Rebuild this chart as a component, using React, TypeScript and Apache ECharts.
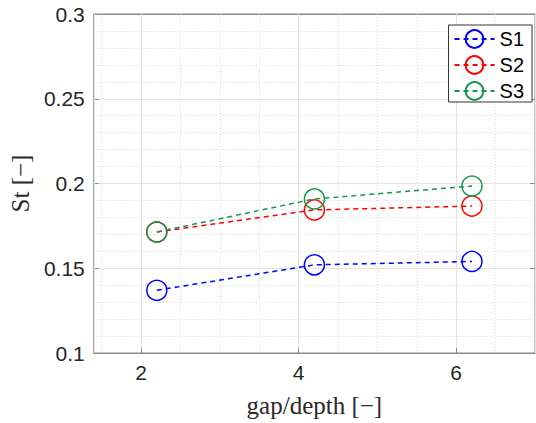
import React, { useEffect, useRef } from "react";
import * as echarts from "echarts";

const xValues = [2.2, 4.2, 6.2];
const s1 = [0.137, 0.152, 0.154];
const s2 = [0.1714, 0.1844, 0.1867];
const s3 = [0.1714, 0.1909, 0.1985];
const seriesNames = ["S1", "S2", "S3"];
const colors = ["#0000ff", "#ff0000", "#17964f"];

export default function App() {
  const ref = useRef<HTMLDivElement>(null);
  useEffect(() => {
    const chart = echarts.init(ref.current!, null, { renderer: "svg" });
    const datasets = [s1, s2, s3];
    const tickFont = { fontFamily: "Liberation Sans", fontSize: 21, color: "#262626" };
    const axisGray = "#8a8a8a";
    chart.setOption({
      animation: false,
      backgroundColor: "#fff",
      grid: { left: 92, top: 14, right: 1, bottom: 70, show: true, borderColor: axisGray, borderWidth: 1 },
      legend: {
        orient: "vertical",
        right: 4,
        top: 25,
        itemWidth: 40,
        itemHeight: 22,
        itemGap: 6,
        padding: [4, 8, 1, 5],
        borderColor: "#333",
        borderWidth: 1,
        backgroundColor: "#fff",
        textStyle: { fontFamily: "Liberation Sans", fontSize: 20, color: "#000" },
        data: seriesNames,
      },
      xAxis: [
        {
          type: "value",
          min: 1.4,
          max: 7,
          minInterval: 2,
          maxInterval: 2,
          axisLine: { show: true, lineStyle: { color: axisGray } },
          axisTick: { show: true, inside: true, length: 5, lineStyle: { color: axisGray } },
          axisLabel: { ...tickFont, margin: 9, showMinLabel: false, showMaxLabel: false },
          splitLine: { show: true, lineStyle: { color: "#e3e3e3", width: 1 } },
          name: "gap/depth [−]",
          nameLocation: "middle",
          nameGap: 40,
          nameTextStyle: { fontFamily: "Liberation Serif", fontSize: 25, color: "#2a2a2a" },
          z: 3,
        },
        {
          type: "value",
          min: 1.4,
          max: 7,
          minInterval: 0.5,
          maxInterval: 0.5,
          position: "bottom",
          axisLine: { show: false },
          axisTick: { show: false },
          axisLabel: { show: false },
          splitLine: { show: true, lineStyle: { color: "#d9d9d9", type: [1, 2], width: 1 } },
          z: 1,
        },
        {
          type: "value",
          min: 1.4,
          max: 7,
          minInterval: 2,
          maxInterval: 2,
          position: "top",
          axisLine: { show: true, lineStyle: { color: axisGray } },
          axisTick: { show: true, inside: true, length: 5, lineStyle: { color: axisGray } },
          axisLabel: { show: false },
          splitLine: { show: false },
        },
      ],
      yAxis: [
        {
          type: "value",
          min: 0.1,
          max: 0.3,
          interval: 0.05,
          axisLine: { show: true, lineStyle: { color: axisGray } },
          axisTick: { show: true, inside: true, length: 5, lineStyle: { color: axisGray } },
          axisLabel: { ...tickFont, margin: 9 },
          splitLine: { show: true, lineStyle: { color: "#e3e3e3", width: 1 } },
          minorTick: { show: false, splitNumber: 5 },
          minorSplitLine: { show: true, lineStyle: { color: "#d9d9d9", type: [1, 2], width: 1 } },
          name: "St [−]",
          nameLocation: "middle",
          nameGap: 58,
          nameRotate: 90,
          nameTextStyle: { fontFamily: "Liberation Serif", fontSize: 25, color: "#2a2a2a" },
        },
        {
          type: "value",
          min: 0.1,
          max: 0.3,
          interval: 0.05,
          position: "right",
          axisLine: { show: true, lineStyle: { color: axisGray } },
          axisTick: { show: true, inside: true, length: 5, lineStyle: { color: axisGray } },
          axisLabel: { show: false },
          splitLine: { show: false },
        },
      ],
      series: datasets.map((d, i) => ({
        name: seriesNames[i],
        type: "line",
        xAxisIndex: 0,
        yAxisIndex: 0,
        data: xValues.map((x, j) => [x, d[j]]),
        symbol: "circle",
        symbolSize: 20,
        z: 5 + i,
        lineStyle: { color: colors[i], width: 1.5, type: [5, 4] },
        itemStyle: { color: "rgba(0,0,0,0)", borderColor: colors[i], borderWidth: 1.5 },
      })),
    });
    return () => chart.dispose();
  }, []);
  return <div ref={ref} style={{ width: 536, height: 423, position: "absolute", left: 0, top: 0 }} />;
}
